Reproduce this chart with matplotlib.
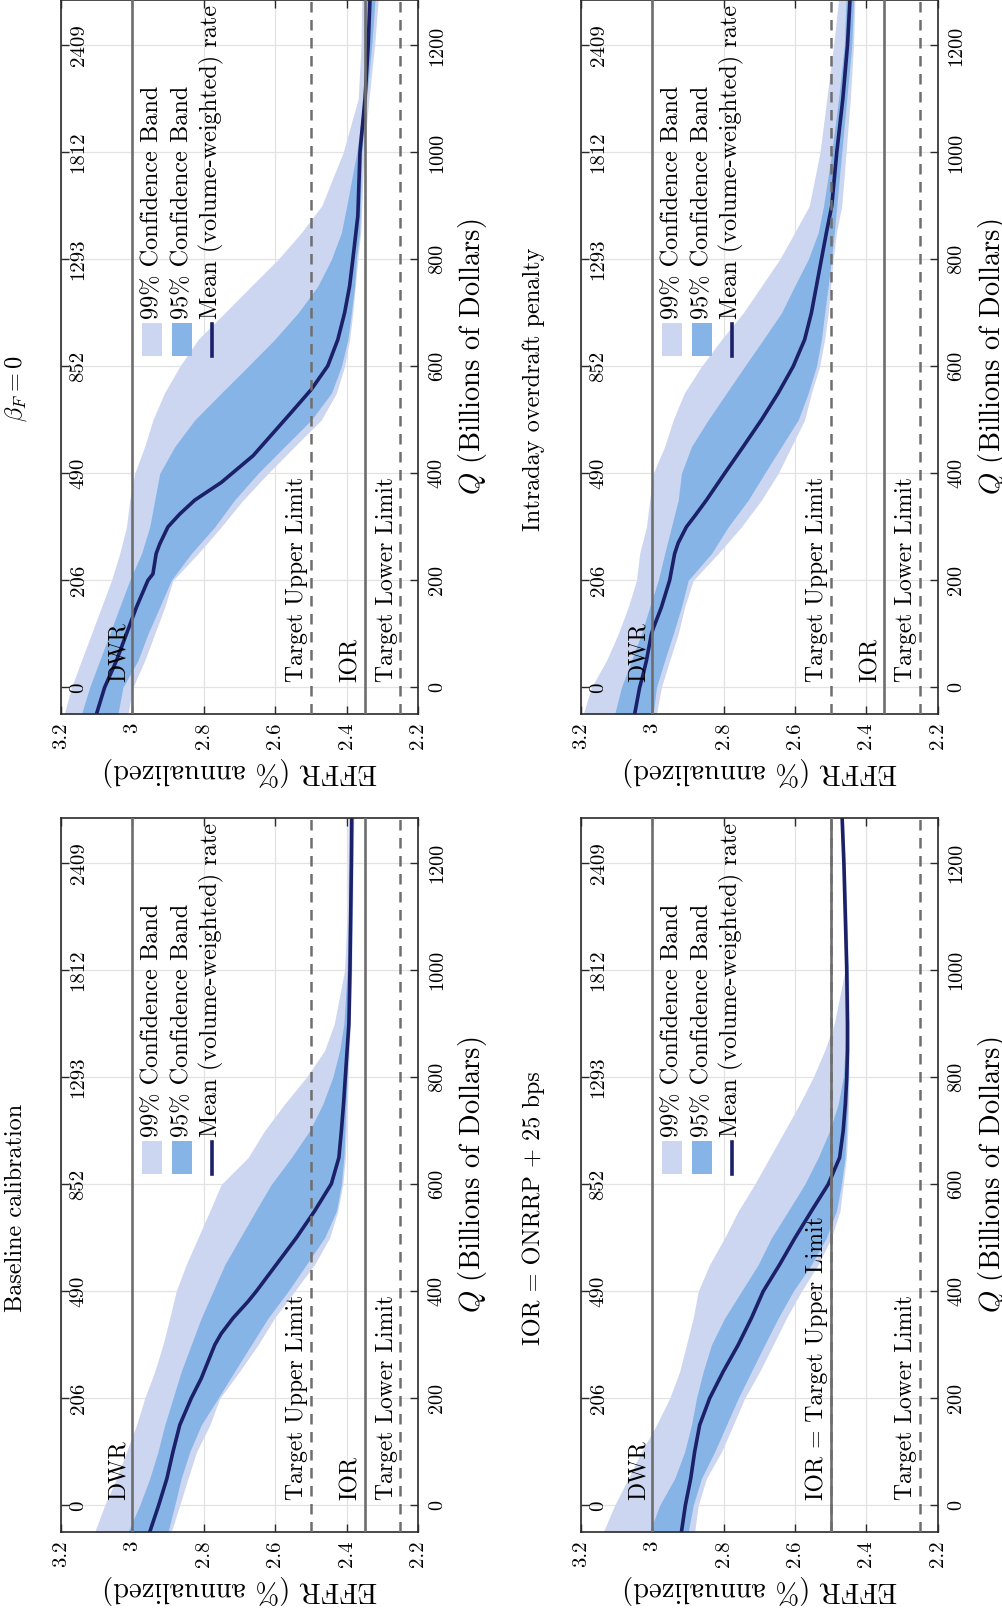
import matplotlib
matplotlib.use('Agg')
import matplotlib.pyplot as plt
import matplotlib.transforms as mtransforms
from matplotlib.patches import Rectangle

plt.rcParams['font.family'] = ['cmr10', 'DejaVu Serif']
plt.rcParams['mathtext.fontset'] = 'cm'
plt.rcParams['axes.unicode_minus'] = False

# policy rates (% annualized)
dwr = 3.0
upper_limit = 2.5
lower_limit = 2.25
ior_rate = 2.35
ior_rate_onrrp = 2.5

effr_ticks = [3.2, 3.0, 2.8, 2.6, 2.4, 2.2]
effr_labels = ['3.2', '3', '2.8', '2.6', '2.4', '2.2']
q_ticks = [0, 200, 400, 600, 800, 1000, 1200]
q_labels = ['0', '200', '400', '600', '800', '1000', '1200']
reserve_labels = ['0', '206', '490', '852', '1293', '1812', '2409']

q_band = [-50, 0, 50, 100, 150, 200, 250, 300, 350, 400, 450, 500, 550, 600,
          650, 700, 750, 800, 850, 900, 1000, 1100, 1200, 1285]

# Baseline calibration
base_hi99 = [3.105, 3.077, 3.044, 3.016, 2.988, 2.965, 2.937, 2.914, 2.895, 2.877, 2.849, 2.816,
             2.783, 2.751, 2.676, 2.63, 2.574, 2.513, 2.462, 2.435, 2.406, 2.399, 2.397, 2.396]
base_hi95 = [3.012, 2.979, 2.951, 2.928, 2.909, 2.886, 2.863, 2.835, 2.807, 2.774, 2.741, 2.698,
             2.655, 2.611, 2.555, 2.504, 2.467, 2.439, 2.42, 2.408, 2.399, 2.395, 2.393, 2.392]
base_lo95 = [2.9, 2.881, 2.863, 2.839, 2.807, 2.76, 2.714, 2.667, 2.62, 2.564, 2.513, 2.462,
             2.429, 2.415, 2.408, 2.405, 2.402, 2.399, 2.396, 2.392, 2.388, 2.386, 2.384, 2.383]
base_lo99 = [2.891, 2.867, 2.844, 2.82, 2.783, 2.755, 2.7, 2.648, 2.602, 2.546, 2.49, 2.448,
             2.425, 2.411, 2.404, 2.401, 2.398, 2.396, 2.393, 2.39, 2.386, 2.384, 2.382, 2.38]
base_q_mean = [-50, 0, 50, 100, 150, 200, 237, 300, 321, 350, 381, 400, 450, 500, 550, 601,
               650, 700, 750, 800, 850, 900, 1000, 1100, 1200, 1285]
base_mean = [2.951, 2.926, 2.903, 2.886, 2.867, 2.835, 2.807, 2.769, 2.751, 2.718, 2.676, 2.653,
             2.597, 2.541, 2.49, 2.443, 2.422, 2.415, 2.409, 2.404, 2.399, 2.394, 2.391, 2.389,
             2.387, 2.386]

# IOR = ONRRP + 25 bps
ior_hi99 = [3.137, 3.105, 3.067, 3.03, 2.988, 2.951, 2.923, 2.904, 2.885, 2.871, 2.839, 2.797,
            2.759, 2.713, 2.671, 2.629, 2.587, 2.549, 2.517, 2.49, 2.46, 2.462, 2.466, 2.471]
ior_hi95 = [3.007, 2.979, 2.937, 2.909, 2.89, 2.876, 2.857, 2.834, 2.797, 2.75, 2.703, 2.666,
            2.619, 2.573, 2.535, 2.503, 2.479, 2.465, 2.46, 2.457, 2.458, 2.462, 2.465, 2.47]
ior_lo95 = [2.899, 2.885, 2.862, 2.825, 2.792, 2.759, 2.722, 2.685, 2.647, 2.605, 2.554, 2.512,
            2.484, 2.47, 2.46, 2.456, 2.453, 2.451, 2.45, 2.45, 2.452, 2.456, 2.461, 2.466]
ior_lo99 = [2.881, 2.871, 2.848, 2.806, 2.773, 2.741, 2.699, 2.661, 2.624, 2.582, 2.535, 2.498,
            2.474, 2.465, 2.456, 2.452, 2.45, 2.449, 2.448, 2.448, 2.45, 2.454, 2.459, 2.464]
ior_q_mean = q_band
ior_mean = [2.918, 2.907, 2.892, 2.881, 2.867, 2.839, 2.801, 2.759, 2.722, 2.689, 2.643, 2.6,
            2.554, 2.507, 2.475, 2.465, 2.459, 2.455, 2.453, 2.453, 2.455, 2.459, 2.463, 2.468]

# beta_F = 0
beta_hi99 = [3.19, 3.17, 3.142, 3.114, 3.086, 3.058, 3.035, 3.016, 3.007, 2.993, 2.965, 2.942,
             2.91, 2.867, 2.816, 2.741, 2.667, 2.592, 2.527, 2.47, 2.41, 2.368, 2.36, 2.358]
beta_hi95 = [3.142, 3.119, 3.091, 3.063, 3.035, 3.007, 2.974, 2.951, 2.937, 2.923, 2.881, 2.825,
             2.751, 2.676, 2.602, 2.536, 2.481, 2.443, 2.415, 2.4, 2.372, 2.352, 2.35, 2.349]
beta_lo95 = [3.04, 3.026, 2.984, 2.956, 2.923, 2.891, 2.835, 2.769, 2.714, 2.648, 2.574, 2.499,
             2.443, 2.415, 2.397, 2.387, 2.378, 2.373, 2.364, 2.362, 2.358, 2.345, 2.33, 2.321]
beta_lo99 = [3.012, 2.998, 2.965, 2.937, 2.909, 2.886, 2.816, 2.751, 2.69, 2.62, 2.546, 2.471,
             2.429, 2.406, 2.392, 2.383, 2.376, 2.369, 2.361, 2.358, 2.352, 2.338, 2.322, 2.312]
beta_q_mean = [-50, 0, 50, 100, 150, 200, 212, 250, 268, 300, 324, 350, 383, 433, 514, 557,
               601, 650, 700, 750, 800, 881, 1000, 1100, 1200, 1285]
beta_mean = [3.1, 3.077, 3.044, 3.016, 2.988, 2.956, 2.942, 2.933, 2.923, 2.9, 2.867, 2.825,
             2.751, 2.662, 2.555, 2.499, 2.453, 2.425, 2.406, 2.392, 2.383, 2.369, 2.363, 2.349,
             2.34, 2.335]

# Intraday overdraft penalty
intra_hi99 = [3.193, 3.17, 3.128, 3.095, 3.067, 3.044, 3.035, 3.016, 3.007, 2.997, 2.965, 2.941,
              2.91, 2.862, 2.806, 2.745, 2.694, 2.643, 2.601, 2.56, 2.53, 2.511, 2.492, 2.478]
intra_hi95 = [3.105, 3.086, 3.058, 3.03, 3.007, 2.983, 2.965, 2.946, 2.927, 2.918, 2.89, 2.843,
              2.792, 2.741, 2.689, 2.638, 2.601, 2.563, 2.535, 2.52, 2.497, 2.478, 2.462, 2.457]
intra_lo95 = [2.997, 2.988, 2.965, 2.941, 2.918, 2.899, 2.834, 2.787, 2.731, 2.685, 2.638, 2.591,
              2.563, 2.54, 2.526, 2.517, 2.507, 2.498, 2.49, 2.483, 2.469, 2.455, 2.441, 2.436]
intra_lo99 = [2.988, 2.974, 2.951, 2.927, 2.909, 2.885, 2.815, 2.75, 2.694, 2.647, 2.61, 2.573,
              2.554, 2.531, 2.517, 2.507, 2.5, 2.493, 2.484, 2.469, 2.457, 2.445, 2.436, 2.432]
intra_q_mean = [-50, 0, 22, 50, 100, 110, 150, 200, 250, 270, 300, 320, 350, 400, 450, 500,
                550, 600, 650, 700, 750, 800, 850, 900, 1000, 1100, 1200, 1285]
intra_mean = [3.049, 3.035, 3.026, 3.016, 3.002, 2.997, 2.974, 2.951, 2.937, 2.927, 2.904, 2.881,
              2.848, 2.797, 2.745, 2.694, 2.647, 2.605, 2.573, 2.554, 2.54, 2.526, 2.512, 2.497,
              2.483, 2.466, 2.453, 2.446]

C99 = '#CCD6F0'
C95 = '#87B4E6'
CMEAN = '#1B2068'
GRAY = '#6E6E6E'

fig = plt.figure(figsize=(10.03, 16.13), dpi=100)


def draw(pos, title, title_xy, hi99, lo99, hi95, lo95, qm, mean, ior, ior_txt):
    ax = fig.add_axes(pos)
    ax.fill_betweenx(q_band, lo99, hi99, color=C99, lw=0, zorder=1)
    ax.fill_betweenx(q_band, lo95, hi95, color=C95, lw=0, zorder=1.5)
    ax.plot(mean, qm, color=CMEAN, lw=2.6, zorder=2)
    ax.axvline(dwr, color=GRAY, lw=1.9, zorder=3)
    ax.axvline(ior, color=GRAY, lw=1.9, zorder=3)
    ax.axvline(upper_limit, color=GRAY, lw=1.8, ls=(0, (4.2, 3.0)), zorder=3)
    ax.axvline(lower_limit, color=GRAY, lw=1.8, ls=(0, (4.2, 3.0)), zorder=3)

    ax.set_xlim(3.2, 2.2)
    ax.set_ylim(-50, 1285)
    ax.grid(True, color='#E2E2E2', lw=0.9)
    ax.set_axisbelow(True)
    for s in ax.spines.values():
        s.set_color('#2A2A2A')
        s.set_linewidth(1.2)

    ax.set_xticks(effr_ticks, labels=effr_labels, rotation=90, fontsize=15)
    ax.set_yticks(q_ticks, labels=q_labels, rotation=90, va='center', fontsize=14.5)
    ax.yaxis.tick_right()
    ax.tick_params(direction='in', length=6, width=1, top=True, bottom=True,
                   left=True, right=True, colors='#2A2A2A', labelcolor='black')
    ax.tick_params(axis='x', pad=6)
    ax.tick_params(axis='y', pad=7)

    ax.set_xlabel('EFFR (% annualized)', rotation=180, fontsize=20.5)
    ax.xaxis.set_label_coords(0.5, -0.06)
    ax.yaxis.set_label_position('right')
    ax.set_ylabel('$Q$ (Billions of Dollars)', fontsize=20.5)
    ax.yaxis.set_label_coords(1.106, 0.5)

    # reserve levels along the other side
    tr = mtransforms.blended_transform_factory(ax.transAxes, ax.transData)
    for q, lab in zip(q_ticks, reserve_labels):
        ax.text(0.025, q, lab, transform=tr, rotation=90, ha='left', va='center', fontsize=15)

    kw = dict(xytext=(-2, 0), textcoords='offset points', rotation=90,
              ha='right', va='bottom', fontsize=17)
    ax.annotate('DWR', xy=(dwr, 10), **kw)
    ax.annotate(ior_txt, xy=(ior, 10), **kw)
    if ior != upper_limit:
        ax.annotate('Target Upper Limit', xy=(upper_limit, 10), **kw)
    ax.annotate('Target Lower Limit', xy=(lower_limit, 10), **kw)

    # legend
    ax.add_patch(Rectangle((0.2273, 0.501), 0.056, 0.047, transform=ax.transAxes,
                           color=C99, lw=0, zorder=4))
    ax.add_patch(Rectangle((0.3112, 0.501), 0.056, 0.047, transform=ax.transAxes,
                           color=C95, lw=0, zorder=4))
    ax.plot([0.423, 0.423], [0.502, 0.546], transform=ax.transAxes, color=CMEAN,
            lw=2.6, zorder=4)
    for xc, txt in zip([0.2553, 0.339, 0.423],
                       ['99% Confidence Band', '95% Confidence Band',
                        'Mean (volume-weighted) rate']):
        ax.text(xc, 0.553, txt, transform=ax.transAxes, rotation=90,
                ha='center', va='bottom', fontsize=17.5, zorder=5)

    fig.text(title_xy[0], title_xy[1], title, rotation=90, ha='center', va='center',
             fontsize=17.5)
    return ax


draw([0.0605, 0.0502, 0.3565, 0.4427], 'Baseline calibration', (0.016, 0.2511),
     base_hi99, base_lo99, base_hi95, base_lo95, base_q_mean, base_mean, ior_rate, 'IOR')
draw([0.579, 0.0502, 0.356, 0.4427], 'IOR = ONRRP + 25 bps', (0.5324, 0.2511),
     ior_hi99, ior_lo99, ior_hi95, ior_lo95, ior_q_mean, ior_mean, ior_rate_onrrp,
     'IOR = Target Upper Limit')
draw([0.0605, 0.5573, 0.3565, 0.4427], r'$\beta_F = 0$', (0.016, 0.7588),
     beta_hi99, beta_lo99, beta_hi95, beta_lo95, beta_q_mean, beta_mean, ior_rate, 'IOR')
draw([0.579, 0.5573, 0.356, 0.4427], 'Intraday overdraft penalty', (0.5324, 0.7588),
     intra_hi99, intra_lo99, intra_hi95, intra_lo95, intra_q_mean, intra_mean, ior_rate, 'IOR')

fig.savefig('out.png', dpi=100, facecolor='white')
